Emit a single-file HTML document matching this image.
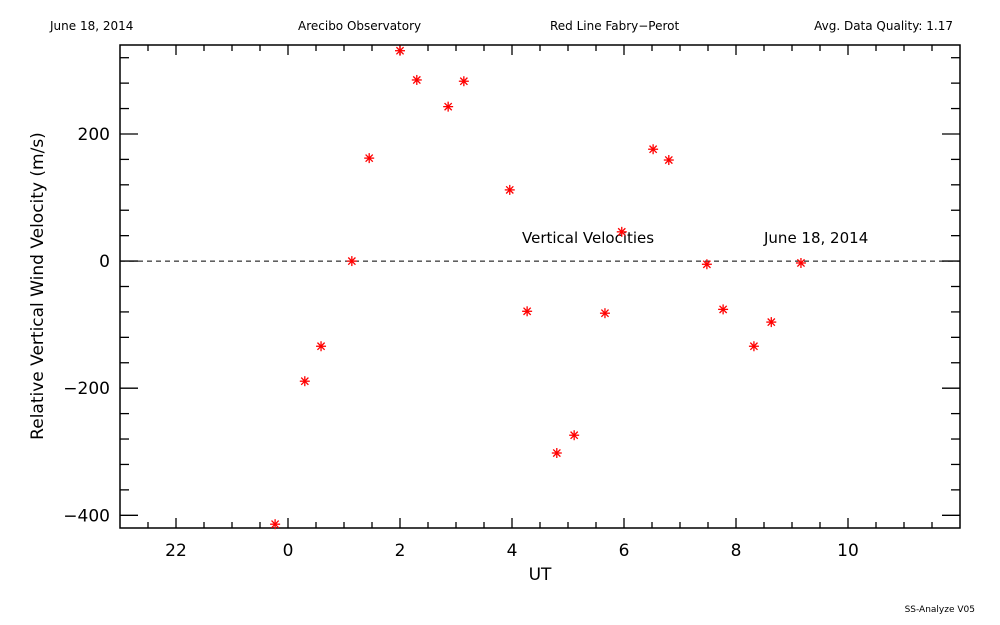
<!DOCTYPE html>
<html><head><meta charset="utf-8"><style>
body{margin:0;background:#fff;}
svg{display:block;font-family:"DejaVu Sans","Liberation Sans",sans-serif;}
</style></head><body>
<svg id="c" width="1000" height="625">
<text x="50" y="30" font-size="12">June 18, 2014</text>
<text x="298" y="30" font-size="12">Arecibo Observatory</text>
<text x="550" y="30" font-size="12">Red Line Fabry−Perot</text>
<text x="953" y="30" font-size="12" text-anchor="end">Avg. Data Quality: 1.17</text>
<text x="975" y="612" font-size="9" text-anchor="end">SS-Analyze V05</text>
<rect x="120" y="45" width="840" height="483" fill="none" stroke="#000" stroke-width="1.5"/>
<g id="ticks"></g>
<line x1="120" x2="960" id="zero" stroke="#000" stroke-dasharray="5,4"/>
<text x="522" y="243" font-size="15">Vertical Velocities</text>
<text x="764" y="243" font-size="15">June 18, 2014</text>
<text x="540" y="580" font-size="17" text-anchor="middle">UT</text>
<text transform="translate(43,286) rotate(-90)" font-size="17" text-anchor="middle">Relative Vertical Wind Velocity (m/s)</text>
<g id="pts"></g>
</svg>
<script>
const utHours=[23.77,24.30,24.59,25.14,25.45,26.0,26.30,26.86,27.14,27.96,28.27,28.80,29.11,29.66,29.96,30.52,30.80,31.48,31.77,32.32,32.63,33.16];
const velocities=[-414,-189,-134,0,162,331,285,243,283,112,-79,-302,-274,-82,46,176,159,-5,-76,-134,-96,-3];
const xTickValues=[22,24,26,28,30,32,34];
const xTickLabels=["22","0","2","4","6","8","10"];
const yTickValues=[-400,-200,0,200];
const yTickLabels=["−400","−200","0","200"];
const X0=21,X1=36,Y0=-420,Y1=340,L=120,R=960,T=45,B=528;
const sx=v=>L+(v-X0)/(X1-X0)*(R-L);
const sy=v=>B-(v-Y0)/(Y1-Y0)*(B-T);
const NS="http://www.w3.org/2000/svg";
const tg=document.getElementById('ticks');
function ln(x1,y1,x2,y2){const e=document.createElementNS(NS,'line');e.setAttribute('x1',x1);e.setAttribute('y1',y1);e.setAttribute('x2',x2);e.setAttribute('y2',y2);e.setAttribute('stroke','#000');e.setAttribute('stroke-width','1.3');


tg.appendChild(e);}
function tx(x,y,s,a){const e=document.createElementNS(NS,'text');e.setAttribute('x',x);e.setAttribute('y',y);e.setAttribute('font-size','17');e.setAttribute('text-anchor',a);e.textContent=s;


tg.appendChild(e);}
for(let h=X0+0.5;h<X1;h+=0.5){const x=sx(h);const maj=Math.abs(h%2)<1e-6;const len=maj?10:6;ln(x,B,x,B-len);ln(x,T,x,T+len);}
xTickValues.forEach((v,i)=>tx(sx(v),B+28,xTickLabels[i],'middle'));
for(let v=-400;v<=320;v+=40){const y=sy(v);const maj=v%200===0;const len=maj?18:9;ln(L,y,L+len,y);ln(R,y,R-len,y);}
yTickValues.forEach((v,i)=>tx(L-10,sy(v)+6,yTickLabels[i],'end'));
const z=document.getElementById('zero');z.setAttribute('y1',sy(0));z.setAttribute('y2',sy(0));
const pg=document.getElementById('pts');
utHours.forEach((h,i)=>{const x=sx(h),y=sy(velocities[i]);const g=document.createElementNS(NS,'g');


g.setAttribute('stroke','#f00');g.setAttribute('stroke-width','1.3');
[[0,5],[5,0],[3.6,3.6],[3.6,-3.6]].forEach(([dx,dy])=>{const l=document.createElementNS(NS,'line');l.setAttribute('x1',x-dx);l.setAttribute('y1',y-dy);l.setAttribute('x2',x+dx);l.setAttribute('y2',y+dy);g.appendChild(l);});
pg.appendChild(g);});
</script>
</body></html>
